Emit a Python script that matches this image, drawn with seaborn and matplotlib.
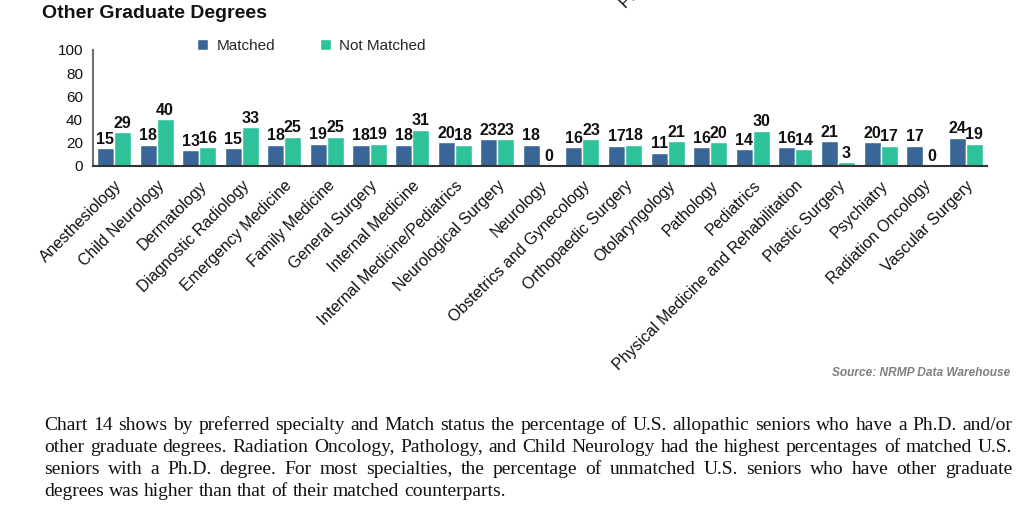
import pandas as pd
import matplotlib
matplotlib.use('Agg')
import matplotlib.pyplot as plt
import seaborn as sns

specialties = ['Anesthesiology', 'Child Neurology', 'Dermatology', 'Diagnostic Radiology',
               'Emergency Medicine', 'Family Medicine', 'General Surgery', 'Internal Medicine',
               'Internal Medicine/Pediatrics', 'Neurological Surgery', 'Neurology',
               'Obstetrics and Gynecology', 'Orthopaedic Surgery', 'Otolaryngology', 'Pathology',
               'Pediatrics', 'Physical Medicine and Rehabilitation', 'Plastic Surgery',
               'Psychiatry', 'Radiation Oncology', 'Vascular Surgery']
matched = [15, 18, 13, 15, 18, 19, 18, 18, 20, 23, 18, 16, 17, 11, 16, 14, 16, 21, 20, 17, 24]
not_matched = [29, 40, 16, 33, 25, 25, 19, 31, 18, 23, 0, 23, 18, 21, 20, 30, 14, 3, 17, 0, 19]
statuses = ['Matched', 'Not Matched']

paragraph = [
    'Chart 14 shows by preferred specialty and Match status the percentage of U.S. allopathic seniors who have a Ph.D. and/or',
    'other graduate degrees. Radiation Oncology, Pathology, and Child Neurology had the highest percentages of matched U.S.',
    'seniors with a Ph.D. degree. For most specialties, the percentage of unmatched U.S. seniors who have other graduate',
    'degrees was higher than that of their matched counterparts.',
]

df = pd.DataFrame({
    'specialty': specialties * 2,
    'status': [statuses[0]] * len(specialties) + [statuses[1]] * len(specialties),
    'pct': matched + not_matched,
})

sns.set_theme(style='white')
plt.rcParams['font.family'] = ['Liberation Sans', 'DejaVu Sans']

W, H = 1024, 532
fig = plt.figure(figsize=(W / 100, H / 100), dpi=100)
ax = fig.add_axes([92.7 / W, 1 - 165.5 / H, (987 - 92.7) / W, (165.5 - 50) / H])

sns.barplot(data=df, x='specialty', y='pct', hue='status', order=specialties,
            palette=['#3A6597', '#2EC29B'], width=0.8, saturation=1, ax=ax)

for c in ax.containers:
    ax.bar_label(c, fontsize=11.5, fontweight='bold', padding=1, color='#111111')

ax.set_ylim(0, 100)
ax.set_xlim(-0.5, len(specialties) - 0.5)
ax.set_yticks(range(0, 101, 20))
ax.set_xlabel('')
ax.set_ylabel('')
ax.tick_params(axis='both', length=0, labelsize=11, colors='#111111')
ax.tick_params(axis='x', labelsize=11.5, pad=9)
ax.tick_params(axis='y', pad=7)
for lab in ax.get_xticklabels():
    lab.set_rotation(45)
    lab.set_ha('right')
    lab.set_va('top')
    lab.set_rotation_mode('anchor')
sns.despine(ax=ax)
ax.spines['left'].set_color('#707070')
ax.spines['left'].set_linewidth(1.5)
ax.spines['bottom'].set_color('#333333')
ax.spines['bottom'].set_linewidth(1.5)

sns.move_legend(ax, 'center', bbox_to_anchor=(311.5 / W, 1 - 46 / H), bbox_transform=fig.transFigure,
                ncol=2, frameon=False, title=None, fontsize=11, handlelength=0.72,
                handleheight=0.72, handletextpad=0.55, columnspacing=2.9)

fig.text(42 / W, 1 - 14 / H, 'Other Graduate Degrees', fontsize=14, fontweight='bold',
         ha='left', va='center', color='#111111')
fig.text(1010 / W, 1 - 373 / H, 'Source: NRMP Data Warehouse', fontsize=8.6, fontweight='bold',
         fontstyle='italic', ha='right', va='center', color='#7f7f7f')
# fragment of the previous chart's label cut off at the page top
fig.text(617 / W, 1 - 11 / H, 'Physical Medicine and Rehabilitation', fontsize=11.5, rotation=45,
         ha='left', va='bottom', color='#111111')

# justified paragraph in serif
renderer = fig.canvas.get_renderer()
x0, x1 = 44, 1012
line_y = [425, 447, 469, 491]
fs = 14
for i, line in enumerate(paragraph):
    words = line.split(' ')
    texts = [fig.text(0, 0, w, fontsize=fs, family='Liberation Serif', color='#111111',
                      ha='left', va='center') for w in words]
    widths = [t.get_window_extent(renderer).width for t in texts]
    if i < len(paragraph) - 1:
        gap = (x1 - x0 - sum(widths)) / (len(words) - 1)
    else:
        gap = 0.25 * fs * 100 / 72
    x = x0
    for t, w in zip(texts, widths):
        t.set_position((x / W, 1 - line_y[i] / H))
        x += w + gap

fig.savefig('out.png', dpi=100)
